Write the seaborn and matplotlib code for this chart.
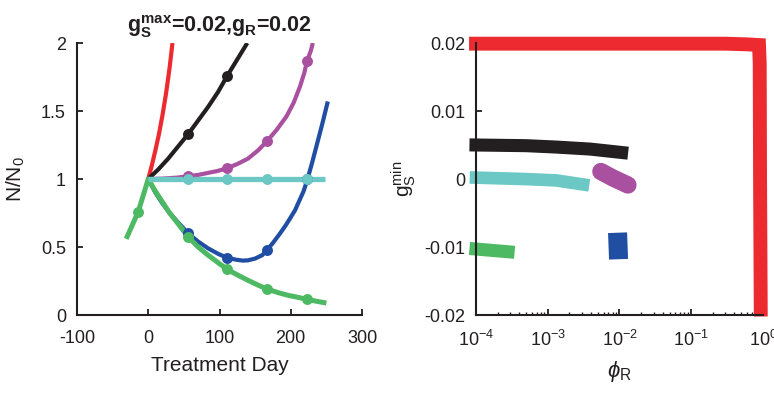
import matplotlib
matplotlib.use("Agg")
import matplotlib.pyplot as plt
import seaborn as sns
from matplotlib.ticker import LogLocator, FixedLocator, NullFormatter

# ---------------- data: left panel (N/N0 vs treatment day) ----------------
red_day = [0, 5, 10, 15, 20, 25, 30, 34]
red_n = [1.0, 1.10, 1.21, 1.33, 1.47, 1.63, 1.82, 2.0]

black_day = [0, 14, 28, 42, 56, 70, 84, 98, 111, 125, 139]
black_n = [1.0, 1.07, 1.15, 1.24, 1.33, 1.43, 1.53, 1.64, 1.76, 1.88, 2.0]
black_mk_day = [56, 111]
black_mk_n = [1.33, 1.76]

magenta_day = [0, 20, 40, 56, 70, 84, 98, 111, 125, 140, 154, 167, 180, 194, 204, 213, 219, 223, 228, 231]
magenta_n = [1.0, 1.003, 1.01, 1.02, 1.03, 1.045, 1.06, 1.08, 1.11, 1.15, 1.21, 1.28, 1.36, 1.46, 1.56, 1.68, 1.78, 1.87, 1.94, 2.0]
magenta_mk_day = [56, 111, 167, 223]
magenta_mk_n = [1.02, 1.08, 1.28, 1.87]

blue_day = [0, 10, 20, 30, 42, 56, 70, 84, 98, 111, 125, 133, 140, 150, 160, 167, 175, 185,
            193, 199, 206, 212, 218, 223, 230, 236, 244, 252]
blue_n = [1.0, 0.90, 0.82, 0.75, 0.68, 0.60, 0.54, 0.49, 0.45, 0.42, 0.405, 0.40, 0.402, 0.415,
          0.44, 0.48, 0.53, 0.60, 0.66, 0.71, 0.77, 0.84, 0.91, 0.99, 1.12, 1.24, 1.40, 1.57]
blue_mk_day = [56, 111, 167, 223]
blue_mk_n = [0.60, 0.42, 0.48, 1.0]

green_day = [-31, -14, 0, 10, 20, 30, 42, 56, 70, 84, 98, 111, 125, 140, 154, 167, 182, 196, 210, 223, 237, 250]
green_n = [0.56, 0.76, 1.0, 0.91, 0.83, 0.75, 0.67, 0.575, 0.50, 0.44, 0.385, 0.335, 0.295, 0.255,
           0.22, 0.19, 0.165, 0.145, 0.13, 0.115, 0.10, 0.088]
green_mk_day = [-14, 56, 111, 167, 223]
green_mk_n = [0.76, 0.575, 0.335, 0.19, 0.115]

cyan_day = [0, 248]
cyan_n = [1.0, 1.0]
cyan_mk_day = [56, 111, 167, 223]
cyan_mk_n = [1.0, 1.0, 1.0, 1.0]

left_xticks = [-100, 0, 100, 200, 300]
left_yticks = [0, 0.5, 1, 1.5, 2]
left_yticklabels = ["0", "0.5", "1", "1.5", "2"]

# ---------------- data: right panel (g_S^min vs phi_R) ----------------
red_phi = [1e-4, 0.3, 0.6, 0.88, 0.90, 0.91, 0.93]
red_g = [0.0199, 0.0199, 0.0198, 0.0197, 0.017, 0.0, -0.0192]

black_phi = [1e-4, 5e-4, 0.0013, 0.0039, 0.0107]
black_g = [0.0050, 0.0049, 0.0047, 0.0044, 0.0039]

cyan_phi = [1e-4, 4.6e-4, 0.0013, 0.0031]
cyan_g = [0.0002, 0.0, -0.0002, -0.0008]

magenta_phi = [0.0055, 0.0081, 0.0131]
magenta_g = [0.0011, 0.00015, -0.00088]

blue_phi = [0.0094, 0.0097]
blue_g = [-0.0079, -0.0118]

green_phi = [1e-4, 0.00028]
green_g = [-0.0103, -0.0107]

right_yticks = [-0.02, -0.01, 0, 0.01, 0.02]
right_yticklabels = ["-0.02", "-0.01", "0", "0.01", "0.02"]

# ---------------- colours ----------------
C_RED = "#ED2A2F"
C_BLACK = "#231F20"
C_MAG = "#AA50A0"
C_BLUE = "#1F4EA3"
C_GREEN = "#4EB963"
C_CYAN = "#6CC8C4"

# ---------------- style ----------------
sns.set_style("ticks")
plt.rcParams["font.family"] = ["Liberation Sans", "DejaVu Sans"]
plt.rcParams["mathtext.fontset"] = "custom"
plt.rcParams["mathtext.rm"] = "Liberation Sans"
plt.rcParams["mathtext.it"] = "Liberation Sans:italic"
plt.rcParams["mathtext.bf"] = "Liberation Sans:bold"
plt.rcParams["mathtext.default"] = "regular"
plt.rcParams["axes.unicode_minus"] = False
TEXT = "#231F20"

fig = plt.figure(figsize=(7.74, 3.93), dpi=100)
axL = fig.add_axes([77 / 774, 1 - 315 / 393, 285 / 774, 272 / 393])
axR = fig.add_axes([476 / 774, 1 - 315 / 393, 287 / 774, 272 / 393])

LW = 3.0
MS = 62

# ---------------- left panel ----------------
sns.lineplot(x=red_day, y=red_n, color=C_RED, lw=LW, ax=axL, sort=False, estimator=None)
sns.lineplot(x=black_day, y=black_n, color=C_BLACK, lw=LW, ax=axL, sort=False, estimator=None)
sns.scatterplot(x=black_mk_day, y=black_mk_n, color=C_BLACK, s=MS, linewidth=0, ax=axL, zorder=3)
sns.lineplot(x=magenta_day, y=magenta_n, color=C_MAG, lw=LW, ax=axL, sort=False, estimator=None)
sns.scatterplot(x=magenta_mk_day, y=magenta_mk_n, color=C_MAG, s=MS, linewidth=0, ax=axL, zorder=3)
sns.lineplot(x=blue_day, y=blue_n, color=C_BLUE, lw=LW, ax=axL, sort=False, estimator=None)
sns.scatterplot(x=blue_mk_day, y=blue_mk_n, color=C_BLUE, s=MS, linewidth=0, ax=axL, zorder=3)
sns.lineplot(x=green_day, y=green_n, color=C_GREEN, lw=LW + 0.6, ax=axL, sort=False, estimator=None)
sns.scatterplot(x=green_mk_day, y=green_mk_n, color=C_GREEN, s=MS, linewidth=0, ax=axL, zorder=4)
sns.lineplot(x=cyan_day, y=cyan_n, color=C_CYAN, lw=LW + 0.8, ax=axL, sort=False, estimator=None)
sns.scatterplot(x=cyan_mk_day, y=cyan_mk_n, color=C_CYAN, s=MS, linewidth=0, ax=axL, zorder=5)
for ln in axL.lines:
    ln.set_solid_capstyle("butt")

axL.set_xlim(-100, 300)
axL.set_ylim(0, 2)
axL.set_xticks(left_xticks)
axL.set_xticklabels([str(v) for v in left_xticks])
axL.set_yticks(left_yticks)
axL.set_yticklabels(left_yticklabels)
axL.set_xlabel("Treatment Day", fontsize=15, color=TEXT, labelpad=6)
axL.set_ylabel(r"$\mathregular{N/N_0}$", fontsize=15, color=TEXT, labelpad=10)
axL.set_title(r"$\mathbf{g_S^{max}}$=0.02,$\mathbf{g_R}$=0.02", fontweight="bold",
              fontsize=15.5, color=TEXT, pad=8)

# ---------------- right panel ----------------
sns.lineplot(x=red_phi, y=red_g, color=C_RED, lw=10, ax=axR, sort=False, estimator=None)
sns.lineplot(x=black_phi, y=black_g, color=C_BLACK, lw=9.4, ax=axR, sort=False, estimator=None)
sns.lineplot(x=cyan_phi, y=cyan_g, color=C_CYAN, lw=9.1, ax=axR, sort=False, estimator=None)
sns.lineplot(x=magenta_phi, y=magenta_g, color=C_MAG, lw=12.5, ax=axR, sort=False, estimator=None)
sns.lineplot(x=blue_phi, y=blue_g, color=C_BLUE, lw=13.7, ax=axR, sort=False, estimator=None)
sns.lineplot(x=green_phi, y=green_g, color=C_GREEN, lw=9.4, ax=axR, sort=False, estimator=None)
caps = ["projecting", "projecting", "projecting", "round", "butt", "projecting"]
for ln, cap in zip(axR.lines, caps):
    ln.set_solid_capstyle(cap)
    ln.set_solid_joinstyle("miter")
    ln.set_clip_on(False)

axR.set_xscale("log")
axR.set_xlim(1e-4, 1)
axR.set_ylim(-0.02, 0.02)
axR.xaxis.set_major_locator(FixedLocator([1e-4, 1e-3, 1e-2, 1e-1, 1]))
axR.xaxis.set_minor_locator(LogLocator(base=10, subs=range(2, 10), numticks=20))
axR.xaxis.set_minor_formatter(NullFormatter())
axR.set_yticks(right_yticks)
axR.set_yticklabels(right_yticklabels)
axR.set_xlabel(r"$\mathit{\phi}_\mathregular{R}$", fontsize=16, color=TEXT, labelpad=6)
axR.set_ylabel(r"$\mathregular{g_S^{min}}$", fontsize=15, color=TEXT, labelpad=4)

for ax in (axL, axR):
    sns.despine(ax=ax)
    ax.set_facecolor("none")
    for s in ("left", "bottom"):
        ax.spines[s].set_linewidth(1.5)
        ax.spines[s].set_color(TEXT)
    ax.tick_params(which="major", direction="in", length=4, width=1.3,
                   labelsize=13, colors=TEXT, pad=8)
    ax.tick_params(which="minor", direction="in", length=2.2, width=1.0, colors=TEXT)
    ax.tick_params(axis="x", which="major", pad=11)

fig.savefig("out.png", dpi=100)
